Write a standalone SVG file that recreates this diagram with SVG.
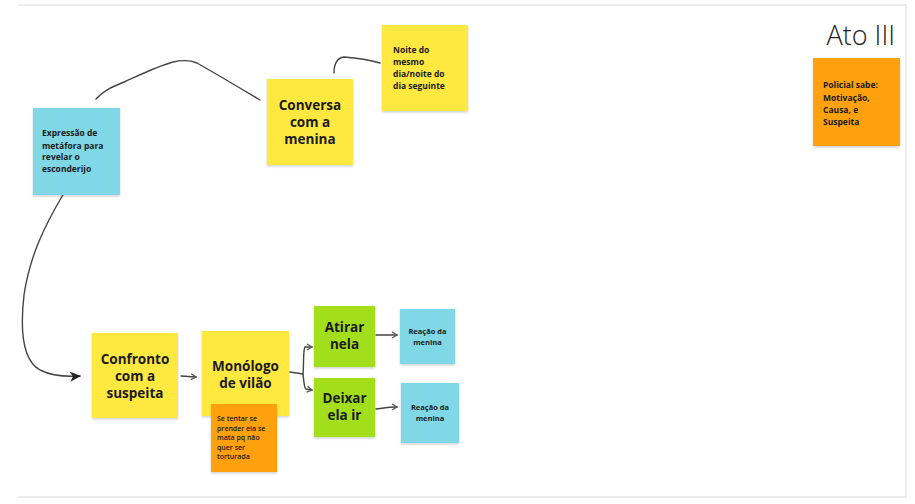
<svg xmlns="http://www.w3.org/2000/svg" width="915" height="504" viewBox="0 0 915 504">
<defs>
<filter id="sh" x="-10%" y="-10%" width="130%" height="130%">
<feDropShadow dx="0" dy="1.5" stdDeviation="1.2" flood-color="#000" flood-opacity="0.18"/>
</filter>
<marker id="open" markerWidth="8" markerHeight="8" refX="6" refY="4" orient="auto" markerUnits="userSpaceOnUse">
<path d="M1,1 L6,4 L1,7" fill="none" stroke="#555" stroke-width="1.3"/>
</marker>
<marker id="solid" markerWidth="14" markerHeight="12" refX="10" refY="6" orient="auto" markerUnits="userSpaceOnUse">
<path d="M0,1 L11,6 L0,11 L3,6 Z" fill="#222"/>
</marker>
</defs>
<style>
.y{fill:#FFE83F}
.c{fill:#80D8E6}
.o{fill:#FFA10A}
.g{fill:#A2DE1E}
.n{filter:url(#sh)}
.t{font-family:"Open Sans","Liberation Sans",sans-serif;font-weight:700;fill:#1b1b1b}
.big{font-size:13.5px;text-anchor:middle}
.sm{font-size:8.5px}
.xs{font-size:7px;font-weight:600}
.ln{fill:none;stroke:#444;stroke-width:1.4;stroke-linecap:round;stroke-linejoin:round}
</style>
<rect width="915" height="504" fill="#fff"/>
<path d="M18,5 H906 V497 H18" fill="none" stroke="#e6e6e6" stroke-width="1.5"/>
<text x="895" y="45" text-anchor="end" font-family="Open Sans, Liberation Sans, sans-serif" font-size="27" font-weight="300" fill="#222">Ato III</text>

<g id="connectors">
<path class="ln" d="M96,99 C104,90 114,86 124,82 C142,74 158,66 173,62 C182,60 190,60 197,63 C218,75 240,88 260,100"/>
<path class="ln" d="M334,73 C334,64 337,58 344,57 C358,58 370,60 380,63"/>
<path class="ln" d="M64,193 C45,225 30,255 24,295 C20,330 22,360 40,370 C52,376 66,377 80,376" marker-end="url(#solid)"/>
<path class="ln" d="M181,376 L196,377" marker-end="url(#open)"/>
<path class="ln" d="M290,372 L303,374 M303,374 C304,362 303,350 305,347 L312,347" marker-end="url(#open)"/>
<path class="ln" d="M303,374 C304,382 304,388 306,389 L312,390" marker-end="url(#open)"/>
<path class="ln" d="M376,335 L397,335" marker-end="url(#open)"/>
<path class="ln" d="M376,409 C384,408 390,407 397,407" marker-end="url(#open)"/>
</g>

<g id="n-expressao">
<rect class="c n" x="33" y="108" width="87" height="87"/>
<text class="t sm" x="42"><tspan x="42" y="136">Expressão de</tspan><tspan x="42" y="148.5">metáfora para</tspan><tspan x="42" y="160">revelar o</tspan><tspan x="42" y="172">esconderijo</tspan></text>
</g>
<g id="n-conversa">
<rect class="y n" x="267" y="79" width="86" height="86"/>
<text class="t big"><tspan x="310" y="110">Conversa</tspan><tspan x="310" y="127">com a</tspan><tspan x="310" y="144">menina</tspan></text>
</g>
<g id="n-noite">
<rect class="y n" x="382" y="25" width="86" height="86"/>
<text class="t sm"><tspan x="393" y="53">Noite do</tspan><tspan x="393" y="65">mesmo</tspan><tspan x="393" y="77">dia/noite do</tspan><tspan x="393" y="88.5">dia seguinte</tspan></text>
</g>
<g id="n-policial">
<rect class="o n" x="813" y="58" width="87" height="88"/>
<text class="t sm"><tspan x="823" y="88">Policial sabe:</tspan><tspan x="823" y="100.5">Motivação,</tspan><tspan x="823" y="112.5">Causa, e</tspan><tspan x="823" y="124.5">Suspeita</tspan></text>
</g>
<g id="n-confronto">
<rect class="y n" x="92" y="333" width="86" height="85"/>
<text class="t big"><tspan x="135" y="364">Confronto</tspan><tspan x="135" y="381">com a</tspan><tspan x="135" y="398">suspeita</tspan></text>
</g>
<g id="n-monologo">
<rect class="y n" x="202" y="331" width="87" height="85"/>
<text class="t big"><tspan x="245.5" y="371">Monólogo</tspan><tspan x="245.5" y="388">de vilão</tspan></text>
</g>
<g id="n-nota">
<rect class="o n" x="211" y="404" width="66" height="68"/>
<text class="t xs"><tspan x="217" y="421">Se tentar se</tspan><tspan x="217" y="430.5">prender ela se</tspan><tspan x="217" y="440">mata pq não</tspan><tspan x="217" y="449.5">quer ser</tspan><tspan x="217" y="458.5">torturada</tspan></text>
</g>
<g id="n-atirar">
<rect class="g n" x="314" y="306" width="61" height="61"/>
<text class="t big"><tspan x="344.5" y="332">Atirar</tspan><tspan x="344.5" y="349">nela</tspan></text>
</g>
<g id="n-deixar">
<rect class="g n" x="314" y="378" width="61" height="59"/>
<text class="t big"><tspan x="344.5" y="403">Deixar</tspan><tspan x="344.5" y="420">ela ir</tspan></text>
</g>
<g id="n-reacao1">
<rect class="c n" x="400" y="309" width="55" height="55"/>
<text class="t" font-size="7.5" text-anchor="middle"><tspan x="427.5" y="334">Reação da</tspan><tspan x="427.5" y="345">menina</tspan></text>
</g>
<g id="n-reacao2">
<rect class="c n" x="401" y="383" width="58" height="60"/>
<text class="t" font-size="7.5" text-anchor="middle"><tspan x="430" y="410">Reação da</tspan><tspan x="430" y="421">menina</tspan></text>
</g>
</svg>
